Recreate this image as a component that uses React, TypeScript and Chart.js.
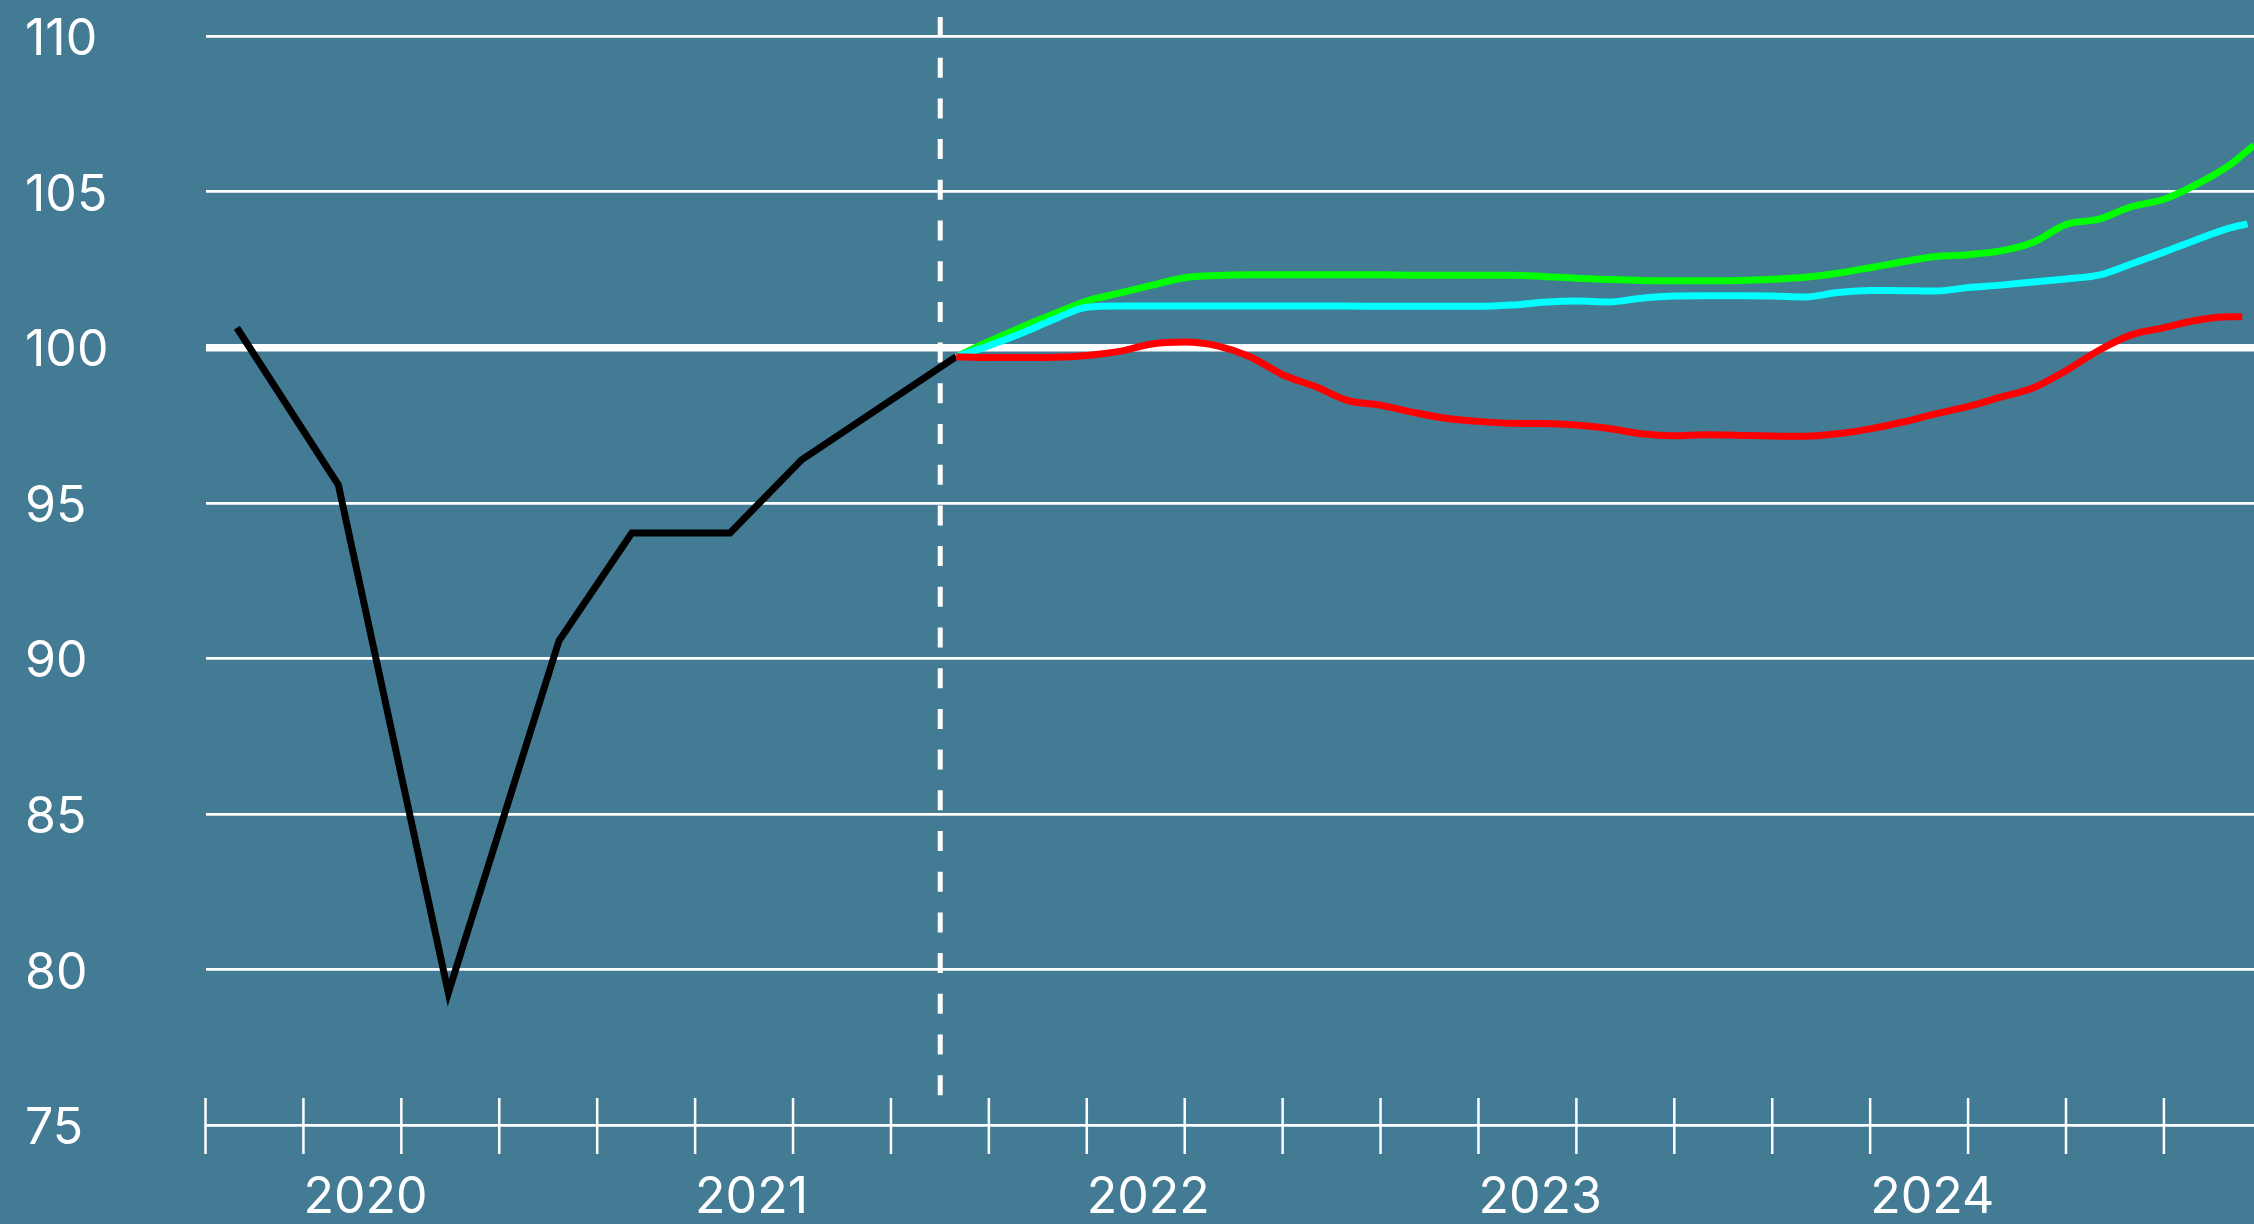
import React, { useEffect, useRef } from 'react';
import { Chart, registerables } from 'chart.js';

Chart.register(...registerables);

const BG = '#437b95';
const FONT = 'Inter, "Noto Sans", sans-serif';

// x values are months counted from January 2020 (0 = Jan 2020)
const historyMonths = [-2.04, 1.07, 4.44, 7.83, 10.06, 13.07, 15.27, 20.0];
const historyValues = [100.63, 95.58, 79.25, 90.57, 94.03, 94.03, 96.39, 99.7];

const forecastMonths = [
  20, 21, 22, 23, 24, 25, 26, 27, 28, 29,
  30, 31, 32, 33, 34, 35, 36, 37, 38, 39,
  40, 41, 42, 43, 44, 45, 46, 47, 48, 49,
  50, 51, 52, 53, 54, 55, 56, 57, 58, 59,
];

const greenValues = [
  99.7, 100.19, 100.65, 101.08, 101.49, 101.74, 102.0, 102.24, 102.31, 102.33,
  102.33, 102.33, 102.33, 102.33, 102.32, 102.32, 102.32, 102.32, 102.28, 102.22,
  102.18, 102.15, 102.14, 102.14, 102.15, 102.19, 102.25, 102.38, 102.56, 102.75,
  102.92, 102.98, 103.1, 103.38, 103.95, 104.12, 104.52, 104.76, 105.24, 105.85,
];
const greenEnd = { month: 59.76, value: 106.5 };

const cyanValues = [
  99.7, 100.05, 100.45, 100.9, 101.29, 101.33, 101.33, 101.33, 101.33, 101.33,
  101.33, 101.33, 101.33, 101.32, 101.32, 101.32, 101.32, 101.36, 101.45, 101.49,
  101.46, 101.58, 101.65, 101.66, 101.66, 101.65, 101.62, 101.76, 101.83, 101.82,
  101.81, 101.92, 102.0, 102.1, 102.2, 102.32, 102.68, 103.06, 103.46, 103.83,
];
const cyanEnd = { month: 59.56, value: 103.97 };

const redValues = [
  99.7, 99.67, 99.67, 99.68, 99.74, 99.87, 100.11, 100.17, 100.05, 99.7,
  99.12, 98.74, 98.29, 98.14, 97.91, 97.72, 97.62, 97.56, 97.55, 97.5,
  97.39, 97.22, 97.16, 97.19, 97.17, 97.15, 97.14, 97.22, 97.38, 97.6,
  97.86, 98.1, 98.4, 98.7, 99.25, 99.9, 100.4, 100.63, 100.87, 100.98,
];
const redEnd = { month: 59.4, value: 100.98 };

const cutoffMonth = 19.51;
const cutoffRange = [110.62, 75.9];

const yTickValues = [75, 80, 85, 90, 95, 100, 105, 110];
const quarterTickMonths = [-3, 0, 3, 6, 9, 12, 15, 18, 21, 24, 27, 30, 33, 36, 39, 42, 45, 48, 51, 54, 57];
const yearLabels = ['2020', '2021', '2022', '2023', '2024'];
const yearStartMonths = [0, 12, 24, 36, 48];

const toPoints = (xs: number[], ys: number[], end?: { month: number; value: number }) => {
  const pts = xs.map((x, i) => ({ x, y: ys[i] }));
  if (end) pts.push({ x: end.month, y: end.value });
  return pts;
};

const crossTicks = {
  id: 'crossTicks',
  afterDraw(chart: any) {
    const xs = chart.scales.x;
    const ys = chart.scales.y;
    const y0 = ys.getPixelForValue(75);
    const ctx = chart.ctx;
    ctx.save();
    ctx.strokeStyle = '#ffffff';
    ctx.lineWidth = 2.5;
    xs.ticks.forEach((t: any) => {
      const px = xs.getPixelForValue(t.value);
      ctx.beginPath();
      ctx.moveTo(px, y0 - 27);
      ctx.lineTo(px, y0 + 29);
      ctx.stroke();
    });
    ctx.restore();
  },
};

export default function App() {
  const canvasRef = useRef<HTMLCanvasElement | null>(null);

  useEffect(() => {
    if (!canvasRef.current) return;
    const chart = new Chart(canvasRef.current, {
      type: 'line',
      data: {
        datasets: [
          {
            data: toPoints(forecastMonths, redValues, redEnd),
            borderColor: '#ff0000',
            borderWidth: 7,
            cubicInterpolationMode: 'monotone',
            borderJoinStyle: 'round',
            pointRadius: 0,
          },
          {
            data: toPoints(forecastMonths, cyanValues, cyanEnd),
            borderColor: '#00ffff',
            borderWidth: 7,
            cubicInterpolationMode: 'monotone',
            borderJoinStyle: 'round',
            pointRadius: 0,
          },
          {
            data: toPoints(forecastMonths, greenValues, greenEnd),
            borderColor: '#00ff00',
            borderWidth: 7,
            cubicInterpolationMode: 'monotone',
            borderJoinStyle: 'round',
            pointRadius: 0,
          },
          {
            data: toPoints(historyMonths, historyValues),
            borderColor: '#000000',
            borderWidth: 7,
            tension: 0,
            pointRadius: 0,
          },
          {
            data: [
              { x: cutoffMonth, y: cutoffRange[0] },
              { x: cutoffMonth, y: cutoffRange[1] },
            ],
            borderColor: '#ffffff',
            borderWidth: 5,
            borderDash: [20, 20.7],
            tension: 0,
            pointRadius: 0,
          },
        ],
      },
      options: {
        responsive: false,
        animation: false,
        devicePixelRatio: 1,
        layout: { padding: { left: 25, top: 17, right: 0, bottom: 0 } },
        plugins: { legend: { display: false }, tooltip: { enabled: false } },
        elements: { point: { radius: 0 } },
        scales: {
          x: {
            type: 'linear',
            min: -3,
            max: 59.76,
            grid: { display: false },
            border: { display: false },
            afterBuildTicks: (s: any) => {
              s.ticks = quarterTickMonths.map((v) => ({ value: v }));
            },
            afterFit: (s: any) => {
              s.height = 99;
              s.paddingLeft = 0;
              s.paddingRight = 0;
            },
            ticks: {
              autoSkip: false,
              maxRotation: 0,
              minRotation: 0,
              align: 'start',
              padding: 35,
              color: '#ffffff',
              font: { family: FONT, size: 50 },
              callback: (v: any) => {
                const i = yearStartMonths.indexOf(Number(v));
                return i >= 0 ? yearLabels[i] : '';
              },
            },
          },
          y: {
            type: 'linear',
            min: 75,
            max: 110.62,
            afterBuildTicks: (s: any) => {
              s.ticks = yTickValues.map((v) => ({ value: v }));
            },
            afterFit: (s: any) => {
              s.width = 180.5;
              s.paddingTop = 0;
              s.paddingBottom = 0;
            },
            grid: {
              color: '#ffffff',
              lineWidth: (ctx: any) => (ctx.tick && ctx.tick.value === 100 ? 7.5 : 2.7),
              drawTicks: false,
            },
            border: { display: false },
            ticks: {
              crossAlign: 'far',
              padding: 0,
              labelOffset: 4,
              color: '#ffffff',
              font: { family: FONT, size: 50 },
              callback: (v: any) => String(v),
            },
          },
        },
      },
      plugins: [crossTicks],
    } as any);
    return () => chart.destroy();
  }, []);

  return (
    <div
      style={{
        position: 'fixed',
        left: 0,
        top: 0,
        width: 2254,
        height: 1224,
        background: BG,
        overflow: 'hidden',
      }}
    >
      <canvas
        ref={canvasRef}
        width={2254}
        height={1224}
        style={{ display: 'block', width: 2254, height: 1224 }}
      />
    </div>
  );
}
